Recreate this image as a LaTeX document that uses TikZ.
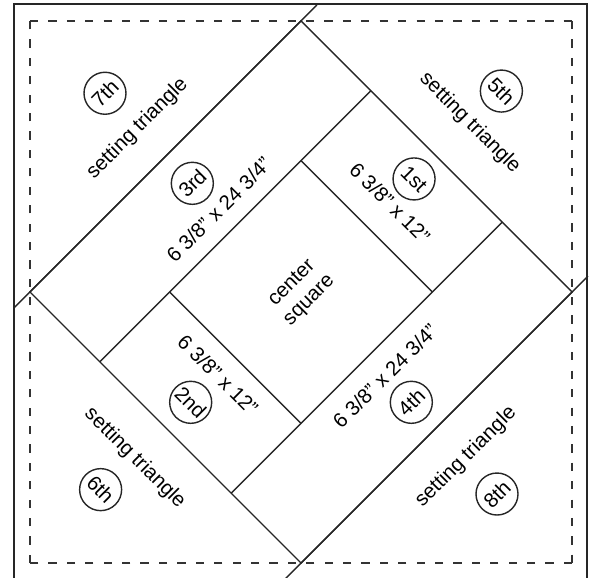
\documentclass[tikz,border=0pt]{standalone}
\usepackage{fontspec}
\setmainfont{Liberation Sans}
\tikzset{
  frameS/.style={draw=black!85, line width=2.1pt},
  trimS/.style ={draw=black!80, line width=1.3pt, dash pattern=on 7pt off 8.71pt},
  seamS/.style ={draw=black!85, line width=1.2pt},
  lbl/.style   ={font=\fontsize{17.5}{21}\selectfont, inner sep=0pt, align=center, transform shape},
  tag/.style   ={lbl, circle, draw=black!85, line width=1.2pt, minimum size=1.26cm},
}
\begin{document}
\begin{tikzpicture}
  \useasboundingbox (0,0) rectangle (17.67,17.31);
  \clip (0,0) rectangle (17.67,17.31);
  \draw[frameS] (0.42,-1) rectangle (17.61,17.19);
  \draw[trimS] (0.9,0.42) -- (0.9,16.68) (0.9,16.68) -- (17.16,16.68)
               (17.16,16.68) -- (17.16,0.42) (17.16,0.42) -- (0.9,0.42);
  \begin{scope}[shift={(9.03,0.42)}, rotate=45, x=0.46455cm, y=0.46455cm]
    \draw[seamS] (0,0) rectangle (24.75,24.75);
    \draw[seamS] (-1.46,0) -- (26.21,0) (-1.46,24.75) -- (26.21,24.75);
    \draw[seamS] (0,6.375) -- (24.75,6.375) (0,18.375) -- (24.75,18.375);
    \draw[seamS] (6.375,6.375) -- (6.375,18.375) (18.375,6.375) -- (18.375,18.375);
    \node[lbl] (sq) at (12.375,12.375) {center\\square};
    \node[lbl, rotate=-90] (s1) at (20.5,12.375) {6 3/8” x 12”};
    \node[tag, rotate=-90] (t1) at (22.7,12.375) {1st};
    \node[lbl, rotate=-90] (s2) at (4.8,12.375) {6 3/8” x 12”};
    \node[tag, rotate=-90] (t2) at (2.3,12.375) {2nd};
    \node[lbl] (s3) at (12.375,19.9) {6 3/8” x 24 3/4”};
    \node[tag] (t3) at (12.375,22.3) {3rd};
    \node[lbl] (s4) at (12.375,4.7) {6 3/8” x 24 3/4”};
    \node[tag] (t4) at (12.375,2.3) {4th};
    \node[lbl, rotate=-90] (tr5) at (27.8,12.375) {setting triangle};
    \node[tag, rotate=-90] (t5) at (30.7,12.4) {5th};
    \node[lbl, rotate=-90] (tr6) at (-2.8,12.375) {setting triangle};
    \node[tag, rotate=-90] (t6) at (-5.8,12.5) {6th};
    \node[lbl] (tr7) at (12.375,27.3) {setting triangle};
    \node[tag] (t7) at (12.5,30.4) {7th};
    \node[lbl] (tr8) at (12.375,-2.7) {setting triangle};
    \node[tag] (t8) at (12.1,-5.8) {8th};
  \end{scope}
\end{tikzpicture}
\end{document}
